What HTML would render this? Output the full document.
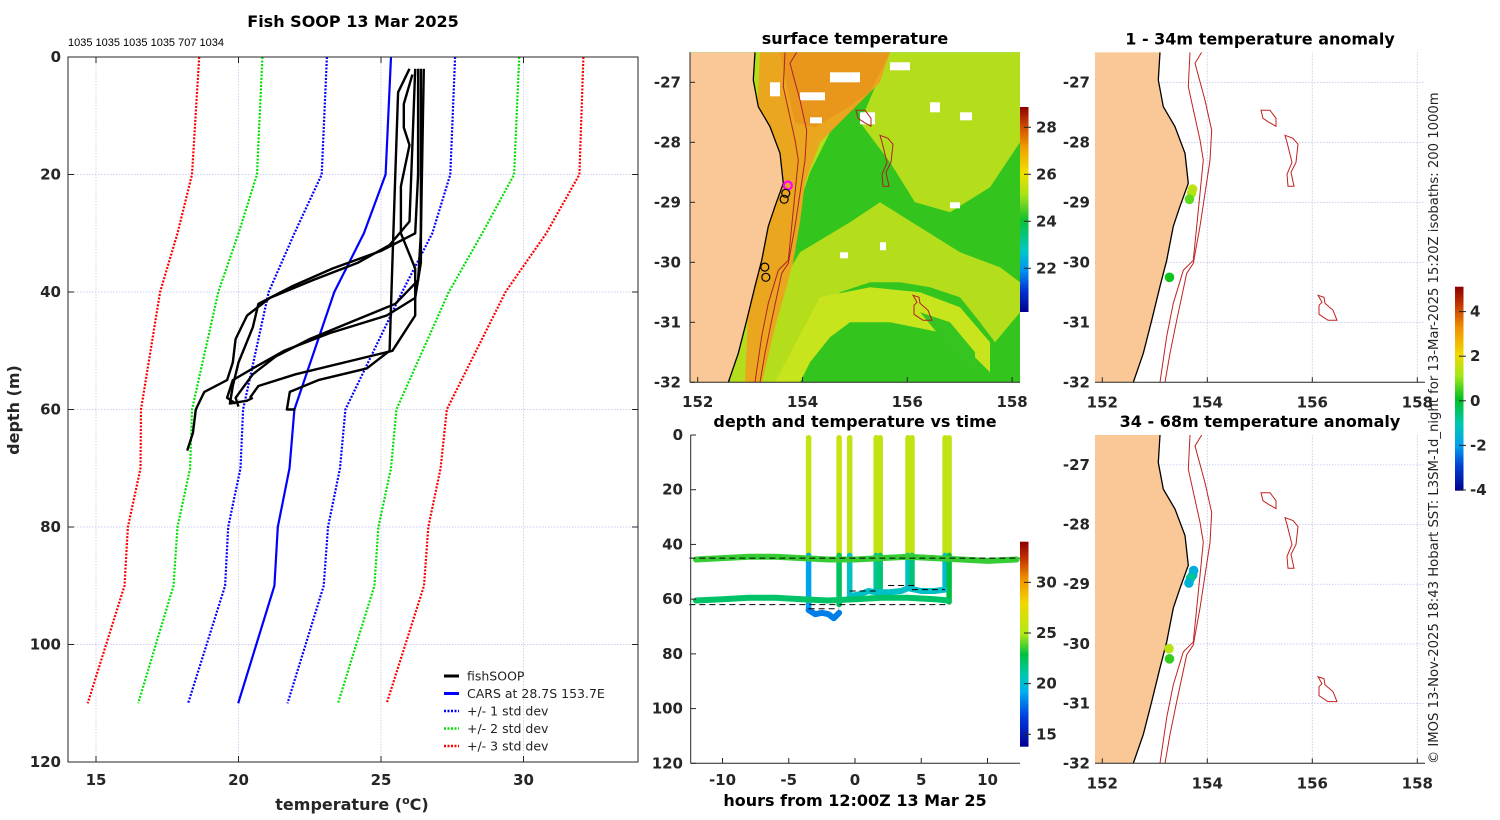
<!DOCTYPE html>
<html><head><meta charset="utf-8">
<style>
html,body{margin:0;padding:0;background:#fff;}
svg{display:block;font-family:"DejaVu Sans","Liberation Sans",sans-serif;}
.tk{font-size:15px;font-weight:bold;fill:#262626;}
.ttl{font-size:16px;font-weight:bold;fill:#000;}
</style></head>
<body>
<svg id="fig" width="1500" height="820" viewBox="0 0 1500 820" xmlns="http://www.w3.org/2000/svg">
<defs>
<linearGradient id="sstGrad" x1="0" y1="1" x2="0" y2="0">
<stop offset="0" stop-color="#00008f"/><stop offset="0.1" stop-color="#0030d0"/><stop offset="0.2" stop-color="#0090f0"/><stop offset="0.3" stop-color="#00c8c8"/><stop offset="0.45" stop-color="#10c030"/><stop offset="0.57" stop-color="#a8e018"/><stop offset="0.68" stop-color="#f0e000"/><stop offset="0.8" stop-color="#f0a000"/><stop offset="0.9" stop-color="#d05000"/><stop offset="1" stop-color="#900000"/>
</linearGradient>
<linearGradient id="timeGrad" x1="0" y1="1" x2="0" y2="0">
<stop offset="0" stop-color="#00008f"/><stop offset="0.15" stop-color="#0040e0"/><stop offset="0.27" stop-color="#00b0f0"/><stop offset="0.35" stop-color="#00c8b0"/><stop offset="0.45" stop-color="#00c040"/><stop offset="0.55" stop-color="#b0e818"/><stop offset="0.7" stop-color="#f0d800"/><stop offset="0.82" stop-color="#f09000"/><stop offset="0.92" stop-color="#c03000"/><stop offset="1" stop-color="#8b0000"/>
</linearGradient>
<linearGradient id="anomGrad" x1="0" y1="1" x2="0" y2="0">
<stop offset="0" stop-color="#00008f"/><stop offset="0.12" stop-color="#0040d0"/><stop offset="0.22" stop-color="#00a0f0"/><stop offset="0.33" stop-color="#00c8b0"/><stop offset="0.45" stop-color="#00c020"/><stop offset="0.56" stop-color="#a0e818"/><stop offset="0.67" stop-color="#f0d800"/><stop offset="0.8" stop-color="#f09000"/><stop offset="0.92" stop-color="#c03000"/><stop offset="1" stop-color="#8b0000"/>
</linearGradient>
<clipPath id="clipL"><rect x="68" y="57" width="570" height="705"/></clipPath>
<clipPath id="clipM1"><rect x="690" y="52.3" width="330" height="330"/></clipPath>
<clipPath id="clipR1"><rect x="1095" y="52.3" width="330" height="330"/></clipPath>
<clipPath id="clipR2"><rect x="1095" y="435" width="330" height="328.3"/></clipPath>
</defs>
<g id="root"></g>
</svg>
<script>
// ---------- profile chart data ----------
const depthLevels = [0,20,30,40,60,70,80,90,110];
const carsMean = [25.35,25.16,24.4,23.36,21.96,21.79,21.38,21.26,19.99];
const carsM1 = [23.10,22.92,21.96,21.06,20.16,20.07,19.64,19.53,18.23];
const carsP1 = [27.60,27.43,26.80,25.74,23.75,23.56,23.14,22.99,21.72];
const carsM2 = [20.84,20.65,20.00,19.29,18.37,18.30,17.86,17.72,16.48];
const carsP2 = [29.85,29.67,28.55,27.38,25.54,25.35,24.91,24.77,23.49];
const carsM3 = [18.62,18.37,17.86,17.25,16.58,16.56,16.12,16.00,14.71];
const carsP3 = [32.10,31.96,30.80,29.37,27.31,27.09,26.66,26.51,25.20];
const tempTicks = [15,20,25,30];
const depthTicks = [0,20,40,60,80,100,120];
// fishSOOP profiles: temps and depths
const profTemps = [
 [26.2,26.1,26.0,25.3,24.2,22.6,21.1,20.3,19.9,19.8,19.6,18.8,18.5,18.4,18.2],
 [26.3,26.3,26.2,25.0,23.3,21.9,20.7,20.5,20.0,19.8,19.7,20.3,20.5],
 [26.5,26.4,26.3,25.5,24.0,22.5,21.3,20.5,19.9,20.0],
 [26.4,26.4,26.2,25.2,23.2,21.6,20.5,19.8,19.6,19.9],
 [26.0,25.6,25.5,25.4,25.3,24.5,22.8,21.8,21.7,22.0],
 [26.1,25.8,25.8,26.0,25.7,25.7,26.2,26.2,25.4,22.0,20.7,20.4]
];
const profDepths = [
 [2,15,28,32,35,38,41,44,48,52,55,57,60,64,67],
 [2,20,30,33,36,39,42,46,52,56,59,58.5,58],
 [2,30,38,42,45,48,51,54,58,59.5],
 [2,35,41,44,47,50,53,55,58,59],
 [2,6,20,35,50,53,55,57,60,60],
 [3,8,12,15,22,30,36,44,50,54,56,58]
];
// ---------- time chart data ----------
const hourTicks = [-10,-5,0,5,10];
const tDepthTicks = [0,20,40,60,80,100,120];
const shallowT = [-12,-10,-8,-6,-4,-2,0,2,4,6,8,10,12.2];
const shallowD = [45.5,45,44.5,44.5,45,45.5,45.5,45,44.5,45,45.5,46,45.5];
const shallowTemp = 23.6;
const deepT = [-12,-10,-8,-6,-4,-2,0,2,4,6,7];
const deepD = [60.5,60,59.5,59.5,60,60.5,60,59.5,59.5,60,60.5];
const deepTemp = 22.3;
const castTimes = [-3.5,-1.2,-0.4,1.6,1.9,4.0,4.3,6.8,7.1];
const castBottoms = [64,62,58,57,56,55,56,56,61];
const castUpperTemp = [26.0,26.2,26.0,25.8,25.9,25.7,25.9,25.9,25.6];
const castLowerTemp = [19.0,22.5,20.5,21.5,22.0,20.5,22.0,20.0,23.0];
const dipT = [-3.5,-3.0,-2.5,-2.0,-1.6,-1.2];
const dipD = [64,65.5,65,65.5,67,65];
const dipTemp = 18.2;
const shelfT = [-0.4,0.5,1.0,1.6,2.5,3.5,4.0,5,6,6.8];
const shelfD = [59,58,57,57.5,57.5,57,56,57,57,56.5];
const shelfTemp = 20.4;
const sstTicks = [22,24,26,28];
const anomTicks = [-4,-2,0,2,4];
const lonTicks = [152,154,156,158];
const latTicks = [-27,-28,-29,-30,-31,-32];
const anomTopLon = [153.72,153.70,153.66,153.28];
const anomTopLat = [-28.78,-28.85,-28.95,-30.25];
const anomTopVal = [1.4,1.2,0.6,0.1];
const anomBotLon = [153.74,153.72,153.68,153.65,153.27,153.28];
const anomBotLat = [-28.77,-28.85,-28.9,-28.98,-30.08,-30.25];
const anomBotVal = [-1.6,-1.5,-0.8,-1.6,1.3,0.3];

const NS = "http://www.w3.org/2000/svg";
const root = document.getElementById('root');
function el(tag, attrs, parent){const e=document.createElementNS(NS,tag);for(const k in attrs)e.setAttribute(k,attrs[k]);(parent||root).appendChild(e);return e;}
function txt(x,y,s,cls,anchor,parent){const t=el('text',{x:x,y:y,'text-anchor':anchor||'middle'},parent);if(cls)t.setAttribute('class',cls);t.textContent=s;return t;}

function lerpC(stops,v){
  if(v<=stops[0][0])return 'rgb('+stops[0][1].join(',')+')';
  for(let i=1;i<stops.length;i++){if(v<=stops[i][0]){const a=stops[i-1],b=stops[i];const f=(v-a[0])/(b[0]-a[0]);
    const ca=a[1],cb=b[1];const c=[0,1,2].map(j=>Math.round(ca[j]+(cb[j]-ca[j])*f));return 'rgb('+c.join(',')+')';}}
  const l=stops[stops.length-1][1];return 'rgb('+l.join(',')+')';
}
const timeStops=[[13.8,[0,0,143]],[16.8,[0,64,224]],[19.3,[0,176,240]],[21,[0,200,176]],[23,[0,192,64]],[25,[176,232,24]],[28,[240,216,0]],[30.5,[240,144,0]],[32.5,[192,48,0]],[34,[139,0,0]]];
const anomStops=[[-4.1,[0,0,143]],[-3,[0,64,208]],[-2,[0,160,240]],[-1,[0,200,176]],[0,[0,192,32]],[1,[160,232,24]],[2,[240,216,0]],[3.2,[240,144,0]],[4.3,[192,48,0]],[5.1,[139,0,0]]];

// ================= LEFT PROFILE CHART =================
const xT = t => 96 + (t-15)*28.5;
const yD = d => 57 + d*5.875;
const gL = el('g',{});


tempTicks.forEach(t=>{const l=el('line',{x1:xT(t),x2:xT(t),y1:57,y2:762,stroke:'#c9c4e8','stroke-width':0.8,'stroke-dasharray':'1.5,1.5'},gL);
  });
depthTicks.forEach(d=>{const l=el('line',{x1:68,x2:638,y1:yD(d),y2:yD(d),stroke:'#b8c0f0','stroke-width':0.8,'stroke-dasharray':'1.5,1.5'},gL);
  });
const gLP = el('g',{'clip-path':'url(#clipL)'},gL);
function polyT(temps,depths,color,w,dash,name){
  const p=temps.map((t,i)=>xT(t).toFixed(1)+','+yD(depths[i]).toFixed(1)).join(' ');
  const e=el('polyline',{points:p,fill:'none',stroke:color,'stroke-width':w,'stroke-linejoin':'round'},gLP);
  if(dash)e.setAttribute('stroke-dasharray',dash);
  return e;
}
polyT(carsM3,depthLevels,'#ff0000',2.2,'2,1.5','minus-3-std-line');
polyT(carsP3,depthLevels,'#ff0000',2.2,'2,1.5','plus-3-std-line');
polyT(carsM2,depthLevels,'#00e000',2.2,'2,1.5','minus-2-std-line');
polyT(carsP2,depthLevels,'#00e000',2.2,'2,1.5','plus-2-std-line');
polyT(carsM1,depthLevels,'#0000ff',2.2,'2,1.5','minus-1-std-line');
polyT(carsP1,depthLevels,'#0000ff',2.2,'2,1.5','plus-1-std-line');
polyT(carsMean,depthLevels,'#0000ff',2.2,null,'cars-mean-line');
profTemps.forEach((pt,i)=>{polyT(pt,profDepths[i],'#000',2.4,null,'fishsoop-profile');});
const axL=el('rect',{x:68,y:57,width:570,height:705,fill:'none',stroke:'#262626','stroke-width':1},gL);

depthTicks.forEach(d=>{el('line',{x1:68,x2:74,y1:yD(d),y2:yD(d),stroke:'#262626'},gL);el('line',{x1:632,x2:638,y1:yD(d),y2:yD(d),stroke:'#262626'},gL);
  const t=txt(61,yD(d)+5,String(d),'tk','end',gL);});
tempTicks.forEach(v=>{el('line',{x1:xT(v),x2:xT(v),y1:762,y2:756,stroke:'#262626'},gL);el('line',{x1:xT(v),x2:xT(v),y1:57,y2:63,stroke:'#262626'},gL);
  const t=txt(xT(v),785,String(v),'tk','middle',gL);});
let t0=txt(353,27,'Fish SOOP 13 Mar 2025','ttl','middle',gL);
t0=txt(68,46,'1035 1035 1035 1035 707 1034',null,'start',gL);t0.setAttribute('font-size','11');t0.setAttribute('font-family','Liberation Sans, sans-serif');

t0=el('text',{x:352,y:810,'text-anchor':'middle','font-size':16,'font-weight':'bold',fill:'#262626'},gL);
t0.innerHTML='temperature (<tspan dy="-6" font-size="11">o</tspan><tspan dy="6">C)</tspan>';

t0=el('text',{x:0,y:0,'text-anchor':'middle','font-size':16,'font-weight':'bold',fill:'#262626',transform:'translate(19,410) rotate(-90)'},gL);
t0.textContent='depth (m)';
const legItems=[['fishSOOP','#000',null,3],['CARS at 28.7S 153.7E','#0000ff',null,3],['+/- 1 std dev','#0000ff','2,1.5',2.5],['+/- 2 std dev','#00e000','2,1.5',2.5],['+/- 3 std dev','#ff0000','2,1.5',2.5]];
const gLeg=el('g',{},gL);
legItems.forEach((it,i)=>{const y=676+i*17.5;
  const ge=el('g',{},gLeg);
  const l=el('line',{x1:444,x2:459,y1:y,y2:y,stroke:it[1],'stroke-width':it[3]},ge);if(it[2])l.setAttribute('stroke-dasharray',it[2]);
  const t=txt(467,y+4.5,it[0],null,'start',ge);t.setAttribute('font-size','12.5');t.setAttribute('fill','#222');});

// ================= SURFACE TEMPERATURE MAP =================
const mx = lon => 697.7 + (lon-152)*52.4;
const my = lat => 82.3 + (-27-lat)*60;
const gM=el('g',{});
const gMC=el('g',{'clip-path':'url(#clipM1)'},gM);
el('rect',{x:690,y:52,width:330,height:331,fill:'#34c41e'},gMC);
function poly(pts,fill,parent,ox,oy){return el('polygon',{points:pts.map(p=>(p[0]+ox).toFixed(1)+','+(p[1]+oy).toFixed(1)).join(' '),fill:fill},parent);}
const yg='#b4de1c', org='#eaa61e';
poly([[200,0],[330,0],[330,90],[300,135],[260,160],[225,150],[200,110],[170,70]],yg,gMC,690,52.3);
poly([[160,170],[190,150],[230,175],[270,200],[310,215],[330,230],[330,260],[305,290],[290,270],[270,245],[240,235],[210,230],[180,230],[150,240],[130,270],[115,300],[95,330],[60,330],[80,250],[110,200]],yg,gMC,690,52.3);
poly([[130,245],[180,235],[230,240],[270,255],[300,290],[300,320],[280,300],[250,280],[200,270],[160,270],[140,285],[120,310],[110,330],[85,330]],'#c8e41c',gMC,690,52.3);
poly([[230,260],[260,270],[285,300],[285,320],[270,310],[255,290]],'#36c420',gMC,690,52.3);
poly([[60,0],[175,0],[160,40],[140,80],[120,120],[110,150],[105,200],[90,250],[80,300],[70,330],[40,330]],yg,gMC,690,52.3);
poly([[70,0],[200,0],[190,30],[160,60],[130,90],[115,130],[110,170],[103,210],[95,240],[85,275],[72,330],[55,330]],org,gMC,690,52.3);
poly([[90,0],[200,0],[180,40],[150,60],[125,75],[105,70]],'#e8961c',gMC,690,52.3);
[[110,40,25,8],[140,20,30,10],[170,60,15,12],[120,65,12,6],[200,10,20,8],[80,30,10,14],[240,50,10,10],[150,200,8,6],[190,190,6,8],[270,60,12,8],[260,150,10,6]].forEach(r=>{el('rect',{x:690+r[0],y:52.3+r[1],width:r[2],height:r[3],fill:'#fff'},gMC);});
const coast=[[65,0],[63.3,27.7],[68.3,54.4],[80,74.4],[90,101],[93.3,131],[85,154],[78.3,174],[71.7,208],[65,234],[56.7,268],[48.3,301],[38.3,330]];
const iso200=[[95,0],[93.3,34.4],[105,87.7],[108.3,107.7],[105,141],[101.7,174],[98.3,208],[88.3,218],[78.3,251],[71.7,284],[65,330]];
const iso1000=[[106.7,0],[100,11],[110,48],[116.7,78],[115,108],[110,141],[105,174],[98.3,211],[91.7,221],[81.7,268],[75,301],[70,330]];
const loops=[[[166,58],[175,58],[181,66],[181,74],[174,70],[168,66]],[[190,83],[198,86],[203,92],[201,110],[196,120],[199,134],[193,134],[192,122],[197,110],[194,98],[192,90]],[[223,243],[229,245],[230,251],[238,258],[242,268],[233,268],[224,262],[224,253],[227,250]]];
function drawGeo(parent,ox,oy,H,isoColor){
  const land=[[0,0]].concat(coast).concat([[0,330]]);
  const L=poly(land.map(p=>[p[0],p[1]*H/330]),'#fac896',parent,ox,oy);
  
  el('polyline',{points:coast.map(p=>(p[0]+ox)+','+(p[1]*H/330+oy)).join(' '),fill:'none',stroke:'#000','stroke-width':1.3},parent);
  [iso200,iso1000].forEach(iso=>{const e=el('polyline',{points:iso.map(p=>(p[0]+ox)+','+(p[1]*H/330+oy)).join(' '),fill:'none',stroke:isoColor,'stroke-width':1},parent);
    });
  loops.forEach(lp=>{el('polygon',{points:lp.map(p=>(p[0]+ox)+','+(p[1]*H/330+oy)).join(' '),fill:'none',stroke:isoColor,'stroke-width':1},parent);});
}
drawGeo(gMC,690,52.3,330,'#b0202a');
[[153.72,-28.72,'#ff00ff'],[153.68,-28.85,'#000'],[153.65,-28.95,'#000'],[153.28,-30.08,'#000'],[153.3,-30.25,'#000']].forEach(c=>{
  const e=el('circle',{cx:mx(c[0]),cy:my(c[1]),r:4,fill:'none',stroke:c[2],'stroke-width':c[2]=='#000'?1.2:2.2},gM);
  });
el('line',{x1:690,x2:1020,y1:382.3,y2:382.3,stroke:'#262626'},gM);
el('line',{x1:690,x2:690,y1:52.3,y2:382.3,stroke:'#262626'},gM);
lonTicks.forEach(v=>{el('line',{x1:mx(v),x2:mx(v),y1:382.3,y2:377,stroke:'#262626'},gM);const t=txt(mx(v),407,String(v),'tk','middle',gM);});
latTicks.forEach(v=>{el('line',{x1:690,x2:695,y1:my(v),y2:my(v),stroke:'#262626'},gM);const t=txt(681,my(v)+5,String(v),'tk','end',gM);});
t0=txt(855,44,'surface temperature','ttl','middle',gM);
const sy = v => 312 - (v-20.14)*23.5;
t0=el('rect',{x:1020,y:107,width:8.5,height:205,fill:'url(#sstGrad)'},gM);
sstTicks.forEach(v=>{el('line',{x1:1024,x2:1031,y1:sy(v),y2:sy(v),stroke:'#222'},gM);const t=txt(1036,sy(v)+5,String(v),'tk','start',gM);t.setAttribute('font-size','13');});

// ================= TIME CHART =================
const xH = h => 855 + h*13.25;
const yZ = d => 435 + d*2.736;
const gT=el('g',{});
function track(ts,ds,temp,w,name){const e=el('polyline',{points:ts.map((t,i)=>xH(t).toFixed(1)+','+yZ(ds[i]).toFixed(1)).join(' '),fill:'none',stroke:lerpC(timeStops,temp),'stroke-width':w,'stroke-linejoin':'round','stroke-linecap':'round'},gT);
  }
castTimes.forEach((t,i)=>{
  track([t,t],[1,44],castUpperTemp[i],5.5,'cast-upper');
  track([t,t],[44,castBottoms[i]],castLowerTemp[i],5.5,'cast-lower');
});
track(dipT,dipD,dipTemp,6,'deep-dip-track');
track(shelfT,shelfD,shelfTemp,6,'shelf-track');
track(shallowT,shallowD,shallowTemp,6,'shallow-tow-track');
track(deepT,deepD,deepTemp,6,'deep-tow-track');
[[-12.5,12.5,45],[-12.5,7.1,62],[-3.5,-1.2,63.5],[-0.4,1.6,57],[2.5,4.5,55],[4.3,6.8,56.5]].forEach(s=>{
  const e=el('line',{x1:xH(s[0]),x2:xH(s[1]),y1:yZ(s[2]),y2:yZ(s[2]),stroke:'#000','stroke-width':1,'stroke-dasharray':'6,4'},gT);
  });
el('line',{x1:690.7,x2:1020,y1:763.3,y2:763.3,stroke:'#262626'},gT);
el('line',{x1:690.7,x2:690.7,y1:435,y2:763.3,stroke:'#262626'},gT);
hourTicks.forEach(v=>{el('line',{x1:xH(v),x2:xH(v),y1:763.3,y2:758,stroke:'#262626'},gT);const t=txt(xH(v),785,String(v),'tk','middle',gT);});
tDepthTicks.forEach(v=>{el('line',{x1:690.7,x2:696,y1:yZ(v),y2:yZ(v),stroke:'#262626'},gT);const t=txt(683,yZ(v)+5,String(v),'tk','end',gT);});
t0=txt(855,427,'depth and temperature vs time','ttl','middle',gT);
t0=txt(855,806,'hours from 12:00Z 13 Mar 25','ttl','middle',gT);
const ty = v => 734.3 - (v-15)*10.13;
t0=el('rect',{x:1020,y:541.7,width:8.5,height:205,fill:'url(#timeGrad)'},gT);
[15,20,25,30].forEach(v=>{el('line',{x1:1024,x2:1031,y1:ty(v),y2:ty(v),stroke:'#222'},gT);const t=txt(1036,ty(v)+5,String(v),'tk','start',gT);t.setAttribute('font-size','13');});

// ================= ANOMALY MAPS =================
const rx = lon => 1102.3 + (lon-152)*52.5;
function anomMap(oy,H,title,lons,lats,vals,name){
  const g=el('g',{});
  const ry = lat => oy + (0.5 + (-27-lat))*H/5.5;
  const gc=el('g',{'clip-path':oy<200?'url(#clipR1)':'url(#clipR2)'},g);
  lonTicks.slice(1).forEach(v=>{el('line',{x1:rx(v),x2:rx(v),y1:oy,y2:oy+H,stroke:'#c0c4ec','stroke-width':0.8,'stroke-dasharray':'1.5,1.5'},gc);});
  latTicks.forEach(v=>{el('line',{x1:1095,x2:1425,y1:ry(v),y2:ry(v),stroke:'#c0c4ec','stroke-width':0.8,'stroke-dasharray':'1.5,1.5'},gc);});
  drawGeo(gc,1095,oy,H,'#c02020');
  lons.forEach((lo,i)=>{const c=el('circle',{cx:rx(lo),cy:ry(lats[i]),r:4.8,fill:lerpC(anomStops,vals[i])},g);
    });
  el('line',{x1:1095,x2:1425,y1:oy+H,y2:oy+H,stroke:'#262626'},g);
  lonTicks.forEach(v=>{el('line',{x1:rx(v),x2:rx(v),y1:oy+H,y2:oy+H-5,stroke:'#262626'},g);const t=txt(rx(v),oy+H+25,String(v),'tk','middle',g);});
  latTicks.forEach(v=>{const t=txt(1090,ry(v)+5,String(v),'tk','end',g);});
  const tt=txt(1260,oy-8,title,'ttl','middle',g);
}
anomMap(52.3,330,'1 - 34m temperature anomaly',anomTopLon,anomTopLat,anomTopVal,'anomaly-map-1-34m');
anomMap(435,328.3,'34 - 68m temperature anomaly',anomBotLon,anomBotLat,anomBotVal,'anomaly-map-34-68m');
const ay = v => 490 - (v+4)*22.3;
t0=el('rect',{x:1455,y:286.7,width:8.5,height:204,fill:'url(#anomGrad)'},root);
anomTicks.forEach(v=>{el('line',{x1:1459,x2:1466,y1:ay(v),y2:ay(v),stroke:'#222'});const t=txt(1470,ay(v)+5,String(v),'tk','start');t.setAttribute('font-size','13');});
t0=el('text',{x:0,y:0,'text-anchor':'start','font-size':13.2,fill:'#222',transform:'translate(1438,764) rotate(-90)'});
t0.textContent='\u00a9 IMOS 13-Nov-2025 18:43 Hobart SST: L3SM-1d_night for 13-Mar-2025 15:20Z isobaths: 200  1000m';

</script>
</body></html>
